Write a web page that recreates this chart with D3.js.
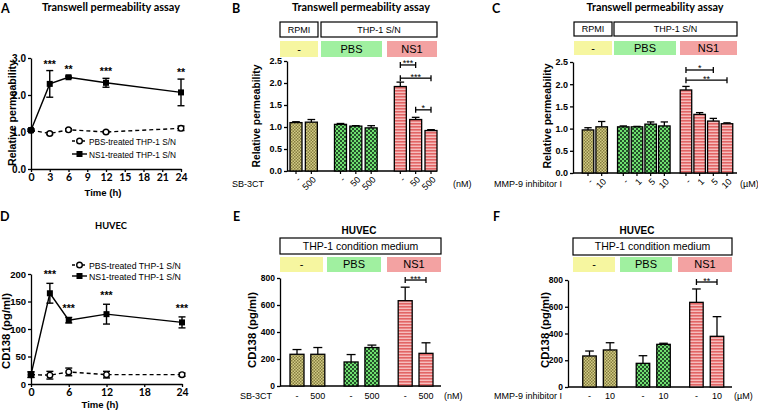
<!DOCTYPE html>
<html><head><meta charset="utf-8">
<script src="https://cdn.jsdelivr.net/npm/d3@7"></script>
<style>body{margin:0;background:#fff}svg{display:block}</style>
</head><body>
<svg id="c" width="758" height="413"></svg>
<script>
// ---------- DATA ----------
// Panel A: Transwell permeability time course
const aTime = [0, 3, 6, 12, 24];
const aPBS = [1.05, 0.96, 1.06, 1.00, 1.10];
const aPBSErr = [0.03, 0.03, 0.03, 0.02, 0.06];
const aNS1 = [1.05, 2.30, 2.48, 2.33, 2.07];
const aNS1Err = [0.03, 0.36, 0.03, 0.12, 0.36];
const aStars = ["", "***", "**", "***", "**"];
const aXTicks = [0, 3, 6, 9, 12, 15, 18, 21, 24];
const aYTicks = [0, 1, 2, 3];
// Panel D: HUVEC CD138 time course
const dTime = [0, 3, 6, 12, 24];
const dPBS = [17, 16, 22, 17, 17];
const dPBSErr = [5, 7, 7, 6, 3];
const dNS1 = [17, 165, 116, 127, 112];
const dNS1Err = [5, 18, 5, 18, 10];
const dStars = ["", "***", "***", "***", "***"];
const dXTicks = [0, 6, 12, 18, 24];
const dYTicks = [0, 50, 100, 150, 200];
const legendLabels = ["PBS-treated THP-1 S/N", "NS1-treated THP-1 S/N"];
// Panel B: SB-3CT
const bLabels = ["-", "500", "-", "50", "500", "-", "50", "500"];
const bGroups = [0, 0, 1, 1, 1, 2, 2, 2];
const bValues = [1.10, 1.11, 1.06, 1.02, 0.98, 1.92, 1.17, 0.92];
const bErrors = [0.02, 0.06, 0.02, 0.01, 0.05, 0.10, 0.05, 0.02];
const bSig = [[5, 6, 2.41, "***"], [5, 7, 2.11, "***"], [6, 7, 1.39, "*"]];
const bYTicks = [0, 0.5, 1.0, 1.5, 2.0, 2.5];
// Panel C: MMP-9 inhibitor I
const cLabels = ["-", "10", "-", "1", "5", "10", "-", "1", "5", "10"];
const cGroups = [0, 0, 1, 1, 1, 1, 2, 2, 2, 2];
const cValues = [0.97, 1.04, 1.04, 1.04, 1.10, 1.06, 1.87, 1.32, 1.17, 1.11];
const cErrors = [0.05, 0.12, 0.02, 0.01, 0.05, 0.09, 0.08, 0.04, 0.06, 0.02];
const cSig = [[6, 8, 2.32, "*"], [6, 9, 2.09, "**"]];
const cYTicks = [0, 0.5, 1.0, 1.5, 2.0, 2.5];
// Panel E: HUVEC, SB-3CT
const eLabels = ["-", "500", "-", "500", "-", "500"];
const eGroups = [0, 0, 1, 1, 2, 2];
const eValues = [235, 235, 178, 285, 632, 242];
const eErrors = [35, 50, 55, 18, 100, 78];
const eSig = [[4, 5, 785, "***"]];
const eYTicks = [0, 200, 400, 600, 800];
// Panel F: HUVEC, MMP-9 inhibitor I
const fLabels = ["-", "10", "-", "10", "-", "10"];
const fGroups = [0, 0, 1, 1, 2, 2];
const fValues = [232, 277, 177, 319, 633, 379];
const fErrors = [37, 54, 57, 8, 100, 147];
const fSig = [[4, 5, 785, "**"]];
const fYTicks = [0, 200, 400, 600, 800];
const groupNames = ["-", "PBS", "NS1"];

// ---------- DRAWING ----------
const ARIAL = "'Liberation Sans', Arial, sans-serif";
const CAL = "Lato, 'Open Sans', sans-serif";
const svg = d3.select("#c");
const defs = svg.append("defs");
function checker(id, a, b, s) {
  const p = defs.append("pattern").attr("id", id).attr("width", 2 * s).attr("height", 2 * s).attr("patternUnits", "userSpaceOnUse");
  p.append("rect").attr("width", 2 * s).attr("height", 2 * s).attr("fill", a);
  p.append("rect").attr("width", s).attr("height", s).attr("fill", b);
  p.append("rect").attr("x", s).attr("y", s).attr("width", s).attr("height", s).attr("fill", b);
}
checker("pOl", "#d3cc86", "#847c3e", 1.5);
checker("pGr", "#6fe06f", "#24502a", 2);
(function () {
  const p = defs.append("pattern").attr("id", "pRd").attr("width", 4).attr("height", 3).attr("patternUnits", "userSpaceOnUse");
  p.append("rect").attr("width", 4).attr("height", 3).attr("fill", "#f6bdbd");
  p.append("rect").attr("width", 4).attr("height", 1.6).attr("fill", "#e26565");
})();
const fills = ["url(#pOl)", "url(#pGr)", "url(#pRd)"];
const boxCols = ["#f6f6a0", "#a0f0a0", "#f3a2a2"];

function fit(sel, w) {
  const l = sel.node().getComputedTextLength();
  if (l > 0) sel.attr("font-size", (parseFloat(sel.attr("font-size")) * w / l).toFixed(2));
  return sel;
}
function txt(x, y, s, o = {}) {
  const t = svg.append("text").attr("x", x).attr("y", y).text(s)
    .attr("font-family", o.ff || ARIAL).attr("font-size", o.fs || 10)
    .attr("font-weight", o.fw || "normal").attr("text-anchor", o.anchor || "start").attr("fill", "#000");
  if (o.rot) t.attr("transform", `rotate(${o.rot},${x},${y})`);
  if (o.w) fit(t, o.w);
  return t;
}
function styleAxis(a, fs, ff) {
  a.selectAll("path,line").attr("stroke", "#000").attr("stroke-width", 1.3);
  a.selectAll("text").attr("font-family", ff || ARIAL).attr("font-weight", "bold").attr("font-size", fs).attr("fill", "#000");
}

function linePanel(o) {
  const g = svg.append("g");
  const x = d3.scaleLinear().domain([0, 24]).range([o.x0, o.x1]);
  const y = d3.scaleLinear().domain([0, o.yMax]).range([o.yBot, o.yTop]);
  const ax = g.append("g").attr("transform", `translate(0,${o.yBot})`)
    .call(d3.axisBottom(x).tickValues(o.xTicks).tickSize(3).tickSizeOuter(0).tickPadding(2));
  styleAxis(ax, 10.5, CAL);
  const ay = g.append("g").attr("transform", `translate(${o.x0},0)`)
    .call(d3.axisLeft(y).tickValues(o.yTicks).tickSize(3).tickSizeOuter(0).tickPadding(2));
  styleAxis(ay, o.yFs, ARIAL);
  const line = d3.line().x((d, i) => x(o.time[i])).y(d => y(d));
  function series(vals, errs, dashed, marker) {
    g.append("path").datum(vals).attr("d", line).attr("fill", "none").attr("stroke", "#000")
      .attr("stroke-width", 1.4).attr("stroke-dasharray", dashed ? "4,3" : null);
    vals.forEach((v, i) => {
      const cx = x(o.time[i]), t = y(v + errs[i]), b = y(v - errs[i]);
      g.append("line").attr("x1", cx).attr("x2", cx).attr("y1", t).attr("y2", b).attr("stroke", "#000").attr("stroke-width", 1.4);
      [t, b].forEach(yy => g.append("line").attr("x1", cx - 3.5).attr("x2", cx + 3.5).attr("y1", yy).attr("y2", yy).attr("stroke", "#000").attr("stroke-width", 1.4));
      marker(g, cx, y(v));
    });
  }
  const circ = (gg, cx, cy) => gg.append("circle").attr("cx", cx).attr("cy", cy).attr("r", 2.8).attr("fill", "#fff").attr("stroke", "#000").attr("stroke-width", 1.4);
  const sq = (gg, cx, cy) => gg.append("rect").attr("x", cx - 3).attr("y", cy - 3).attr("width", 6).attr("height", 6).attr("fill", "#000");
  series(o.pbs, o.pbsErr, true, circ);
  series(o.ns1, o.ns1Err, false, sq);
  o.stars.forEach((s, i) => {
    if (!s) return;
    g.append("text").attr("x", x(o.time[i])).attr("y", y(o.ns1[i] + o.ns1Err[i]) - o.starOff).text(s)
      .attr("text-anchor", "middle").attr("font-family", ARIAL).attr("font-weight", "bold").attr("font-size", 10.5);
  });
  // legend
  o.legendY.forEach((ly, i) => {
    g.append("line").attr("x1", 72).attr("x2", 87).attr("y1", ly).attr("y2", ly).attr("stroke", "#000")
      .attr("stroke-width", 1.4).attr("stroke-dasharray", i === 0 ? "3,2" : null);
    (i === 0 ? circ : sq)(g, 79.5, ly);
    const t = g.append("text").attr("x", 89).attr("y", ly + 3.5).text(legendLabels[i])
      .attr("font-family", ARIAL).attr("font-size", 9.5);
    fit(t, o.legW);
  });
}

function barPanel(o) {
  const g = svg.append("g");
  const slots = o.groups.map((gr, i) => i + gr * o.gap);
  const xs = d3.scaleLinear().domain([0, d3.max(slots)]).range([o.xFirst, o.xLast]);
  const y = d3.scaleLinear().domain([0, o.yMax]).range([o.yBot, o.yTop]);
  const ay = g.append("g").attr("transform", `translate(${o.axisX},0)`)
    .call(d3.axisLeft(y).tickValues(o.yTicks).tickSize(3).tickSizeOuter(0).tickPadding(2).tickFormat(o.fmt));
  styleAxis(ay, o.yFs, ARIAL);
  g.append("line").attr("x1", o.axisX).attr("x2", o.axisEnd).attr("y1", o.yBot).attr("y2", o.yBot).attr("stroke", "#000").attr("stroke-width", 1.3);
  o.values.forEach((v, i) => {
    const cx = xs(slots[i]);
    const top = y(v), et = y(v + o.errors[i]);
    g.append("line").attr("x1", cx).attr("x2", cx).attr("y1", et).attr("y2", top).attr("stroke", "#000").attr("stroke-width", 1.3);
    g.append("line").attr("x1", cx - o.barW * 0.32).attr("x2", cx + o.barW * 0.32).attr("y1", et).attr("y2", et).attr("stroke", "#000").attr("stroke-width", 1.3);
    g.append("rect").attr("x", cx - o.barW / 2).attr("y", top).attr("width", o.barW).attr("height", o.yBot - top)
      .attr("fill", fills[o.groups[i]]).attr("stroke", "#000").attr("stroke-width", 1.3);
    if (o.rotLabels) {
      g.append("line").attr("x1", cx).attr("x2", cx).attr("y1", o.yBot).attr("y2", o.yBot + 3).attr("stroke", "#000").attr("stroke-width", 1.2);
      const lx = cx + 3, lyy = o.yBot + 7;
      g.append("text").attr("x", lx).attr("y", lyy).attr("dy", "0.35em").text(o.labels[i])
        .attr("text-anchor", "end").attr("transform", `rotate(-45,${lx},${lyy})`)
        .attr("font-family", ARIAL).attr("font-size", 9);
    } else {
      g.append("text").attr("x", cx).attr("y", o.labelY).text(o.labels[i]).attr("text-anchor", "middle")
        .attr("font-family", ARIAL).attr("font-size", 9);
    }
  });
  o.sig.forEach(([a, b, lvl, s]) => {
    const x1 = xs(slots[a]), x2 = xs(slots[b]), yy = y(lvl);
    g.append("line").attr("x1", x1).attr("x2", x2).attr("y1", yy).attr("y2", yy).attr("stroke", "#000").attr("stroke-width", 1.3);
    [x1, x2].forEach(xx => g.append("line").attr("x1", xx).attr("x2", xx).attr("y1", yy - 3).attr("y2", yy + 3).attr("stroke", "#000").attr("stroke-width", 1.3));
    g.append("text").attr("x", (x1 + x2) / 2).attr("y", yy + 1.5).text(s).attr("text-anchor", "middle")
      .attr("font-family", ARIAL).attr("font-size", 9);
  });
}

function box(x0, x1, y0, y1, fill, label, fs) {
  svg.append("rect").attr("x", x0).attr("y", y0).attr("width", x1 - x0).attr("height", y1 - y0)
    .attr("fill", fill).attr("stroke", fill === "#fff" ? "#000" : "none").attr("stroke-width", 1.2);
  svg.append("text").attr("x", (x0 + x1) / 2).attr("y", (y0 + y1) / 2 + fs * 0.36).text(label)
    .attr("text-anchor", "middle").attr("font-family", ARIAL).attr("font-size", fs);
}

// Panel letters
[["A", 1, 13], ["B", 232, 13], ["C", 492, 13], ["D", 0, 221], ["E", 233, 221], ["F", 493, 221]]
  .forEach(([l, x, y]) => txt(x, y, l, { ff: CAL, fw: "bold", fs: 12.5 }));

// Titles
txt(111, 11, "Transwell permeability assay", { ff: CAL, fw: "bold", fs: 10.5, anchor: "middle", w: 138 });
txt(361, 11, "Transwell permeability assay", { ff: CAL, fw: "bold", fs: 10.5, anchor: "middle", w: 138 });
txt(655, 11, "Transwell permeability assay", { ff: CAL, fw: "bold", fs: 10.5, anchor: "middle", w: 137 });
txt(111, 229, "HUVEC", { ff: CAL, fw: "bold", fs: 10.5, anchor: "middle", w: 32 });
txt(359, 234, "HUVEC", { fw: "bold", fs: 10, anchor: "middle", w: 35 });
txt(637, 234, "HUVEC", { fw: "bold", fs: 10, anchor: "middle", w: 35 });

// Panel A
linePanel({ x0: 31, x1: 181, yTop: 58, yBot: 169, yMax: 3, xTicks: aXTicks, yTicks: aYTicks, yFs: 10,
  time: aTime, pbs: aPBS, pbsErr: aPBSErr, ns1: aNS1, ns1Err: aNS1Err, stars: aStars, starOff: 3,
  legendY: [141, 154], legW: 87 });
txt(16, 113, "Relative permeability", { fw: "bold", fs: 10.5, anchor: "middle", rot: -90, w: 106 });
txt(103, 196, "Time (h)", { fw: "bold", fs: 10, anchor: "middle", w: 37 });

// Panel D
linePanel({ x0: 31, x1: 182, yTop: 274, yBot: 384, yMax: 200, xTicks: dXTicks, yTicks: dYTicks, yFs: 9.5,
  time: dTime, pbs: dPBS, pbsErr: dPBSErr, ns1: dNS1, ns1Err: dNS1Err, stars: dStars, starOff: 5,
  legendY: [265, 276], legW: 92 });
txt(10, 331, "CD138 (pg/ml)", { fw: "bold", fs: 10, anchor: "middle", rot: -90, w: 76 });
txt(100, 408, "Time (h)", { fw: "bold", fs: 10, anchor: "middle", w: 37 });

// Panel B
box(280, 318, 22, 37, "#fff", "RPMI", 9);
box(321, 437, 22, 37, "#fff", "THP-1 S/N", 9);
box(280, 318, 41, 57, boxCols[0], groupNames[0], 11);
box(321, 382, 41, 57, boxCols[1], groupNames[1], 11);
box(387, 437, 41, 57, boxCols[2], groupNames[2], 11);
barPanel({ labels: bLabels, groups: bGroups, values: bValues, errors: bErrors, sig: bSig, gap: 0.9,
  xFirst: 296, xLast: 431, axisX: 287, axisEnd: 437, yTop: 61, yBot: 171, yMax: 2.5, yTicks: bYTicks,
  fmt: d3.format(".1f"), yFs: 9, barW: 12, rotLabels: true });
txt(260, 116, "Relative permeability", { fw: "bold", fs: 10.5, anchor: "middle", rot: -90, w: 103 });
txt(264, 187, "SB-3CT", { fs: 9, anchor: "end" });
txt(453, 187, "(nM)", { fs: 9 });

// Panel C
box(574, 612, 22, 36, "#fff", "RPMI", 9);
box(614, 737, 22, 36, "#fff", "THP-1 S/N", 9);
box(574, 612, 41, 55, boxCols[0], groupNames[0], 11);
box(614, 676, 41, 55, boxCols[1], groupNames[1], 11);
box(680, 737, 41, 55, boxCols[2], groupNames[2], 11);
barPanel({ labels: cLabels, groups: cGroups, values: cValues, errors: cErrors, sig: cSig, gap: 0.58,
  xFirst: 588, xLast: 727, axisX: 573, axisEnd: 737, yTop: 62, yBot: 173, yMax: 2.5, yTicks: cYTicks,
  fmt: d3.format(".1f"), yFs: 9, barW: 11.5, rotLabels: true });
txt(551, 116, "Relative permeability", { fw: "bold", fs: 10.5, anchor: "middle", rot: -90, w: 105 });
txt(562, 187, "MMP-9 inhibitor I", { fs: 9, anchor: "end" });
txt(740, 187, "(µM)", { fs: 9 });

// Panel E
box(280, 441, 238, 254, "#fff", "THP-1 condition medium", 10.5);
box(280, 323, 257, 272, boxCols[0], groupNames[0], 11);
box(327, 381, 257, 272, boxCols[1], groupNames[1], 11);
box(387, 441, 257, 272, boxCols[2], groupNames[2], 11);
barPanel({ labels: eLabels, groups: eGroups, values: eValues, errors: eErrors, sig: eSig, gap: 0.6,
  xFirst: 297, xLast: 426, axisX: 280, axisEnd: 441, yTop: 278, yBot: 386, yMax: 800, yTicks: eYTicks,
  fmt: d3.format("d"), yFs: 8.5, barW: 14, rotLabels: false, labelY: 399 });
txt(256, 330, "CD138 (pg/ml)", { fw: "bold", fs: 10, anchor: "middle", rot: -90, w: 76 });
txt(272, 399, "SB-3CT", { fs: 9, anchor: "end" });
txt(444, 399, "(nM)", { fs: 9 });

// Panel F
box(573, 732, 238, 255, "#fff", "THP-1 condition medium", 10.5);
box(573, 615, 257, 272, boxCols[0], groupNames[0], 11);
box(620, 672, 257, 272, boxCols[1], groupNames[1], 11);
box(678, 732, 257, 272, boxCols[2], groupNames[2], 11);
barPanel({ labels: fLabels, groups: fGroups, values: fValues, errors: fErrors, sig: fSig, gap: 0.6,
  xFirst: 589.5, xLast: 717, axisX: 568, axisEnd: 732, yTop: 280, yBot: 387, yMax: 800, yTicks: fYTicks,
  fmt: d3.format("d"), yFs: 8.5, barW: 13.5, rotLabels: false, labelY: 399 });
txt(549, 330, "CD138 (pg/ml)", { fw: "bold", fs: 10, anchor: "middle", rot: -90, w: 76 });
txt(562, 399, "MMP-9 inhibitor I", { fs: 9, anchor: "end" });
txt(734, 399, "(µM)", { fs: 9 });
</script>
</body></html>
